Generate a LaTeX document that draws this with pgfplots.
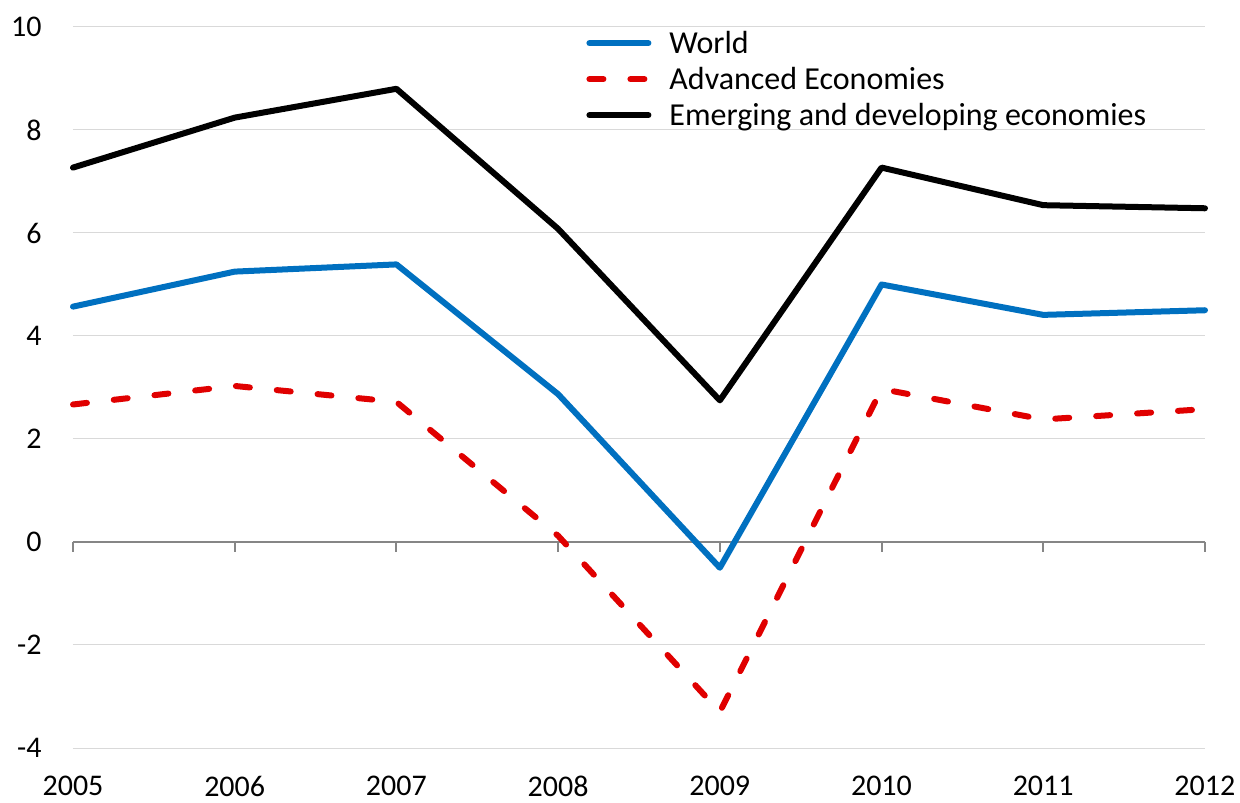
\documentclass[border=0pt]{standalone}
\usepackage{fontspec}
\setmainfont{Carlito}
\usepackage{pgfplots}
\usepackage{pgfplotstable}
\pgfplotsset{compat=1.18}

\definecolor{worldblue}{HTML}{0070C0}
\definecolor{advred}{HTML}{E00000}
\definecolor{gridgray}{HTML}{D9D9D9}
\definecolor{axisgray}{HTML}{868686}
\newcommand\chartfont{\fontsize{15}{18}\selectfont}
\newcommand\legendfont{\fontsize{16}{19}\selectfont}

% Real GDP growth, per cent
\pgfplotstableread{
year world advanced emerging
2005  4.57  2.67  7.27
2006  5.25  3.03  8.24
2007  5.39  2.72  8.80
2008  2.87  0.12  6.08
2009 -0.50 -3.30  2.75
2010  5.00  2.97  7.27
2011  4.41  2.38  6.54
2012  4.50  2.58  6.48
}\growth

\begin{document}
\begin{tikzpicture}
\useasboundingbox (-36.5pt,-27pt) rectangle (583.5pt,374pt);
\begin{axis}[
  width=566pt, height=360.5pt, scale only axis,
  xmin=2005, xmax=2012, ymin=-4, ymax=10,
  axis x line*=bottom, axis y line*=left,
  axis line style={draw=none},
  major tick length=0pt,
  xtick={2005,...,2012},
  xticklabels={2005,2006,2007,2008,2009,2010,2011,2012},
  ytick={-4,-2,...,10},
  yticklabels={-4,-2,0,2,4,6,8,10},
  ymajorgrids, grid style={gridgray, line width=0.5pt},
  tick label style={font=\chartfont, inner sep=0pt},
  xticklabel style={anchor=north, yshift=-14pt},
  yticklabel style={anchor=east, xshift=-15.5pt},
  clip=false,
  legend cell align=left,
  legend style={draw=none, fill=none, inner sep=0pt,
    at={(rel axis cs:0.4532,0.9917)}, anchor=north west,
    font=\legendfont, row sep=5pt,
    nodes={inner sep=0pt, text height=10pt, text depth=3pt, anchor=base west},
    /tikz/every odd column/.append style={column sep=9pt}},
  legend image code/.code={\draw[#1, line cap=round] (0pt,5.1pt) -- (29.5pt,5.1pt);},
  every axis plot/.append style={line width=3pt, line join=round, line cap=round},
]
% zero line with downward year ticks
\draw[axisgray, line width=1pt] (axis cs:2005,0) -- (axis cs:2012,0);
\pgfplotsinvokeforeach{2005,...,2012}{
  \draw[axisgray, line width=1pt] (axis cs:#1,0) -- ([yshift=-5pt]axis cs:#1,0);
}
\addplot[worldblue] table[x=year, y=world] {\growth};
\addlegendentry{World}
\addplot[advred, dash pattern=on 7pt off 13.5pt] table[x=year, y=advanced] {\growth};
\addlegendentry{Advanced Economies}
\addplot[black] table[x=year, y=emerging] {\growth};
\addlegendentry{Emerging and developing economies}
\end{axis}
\end{tikzpicture}
\end{document}
